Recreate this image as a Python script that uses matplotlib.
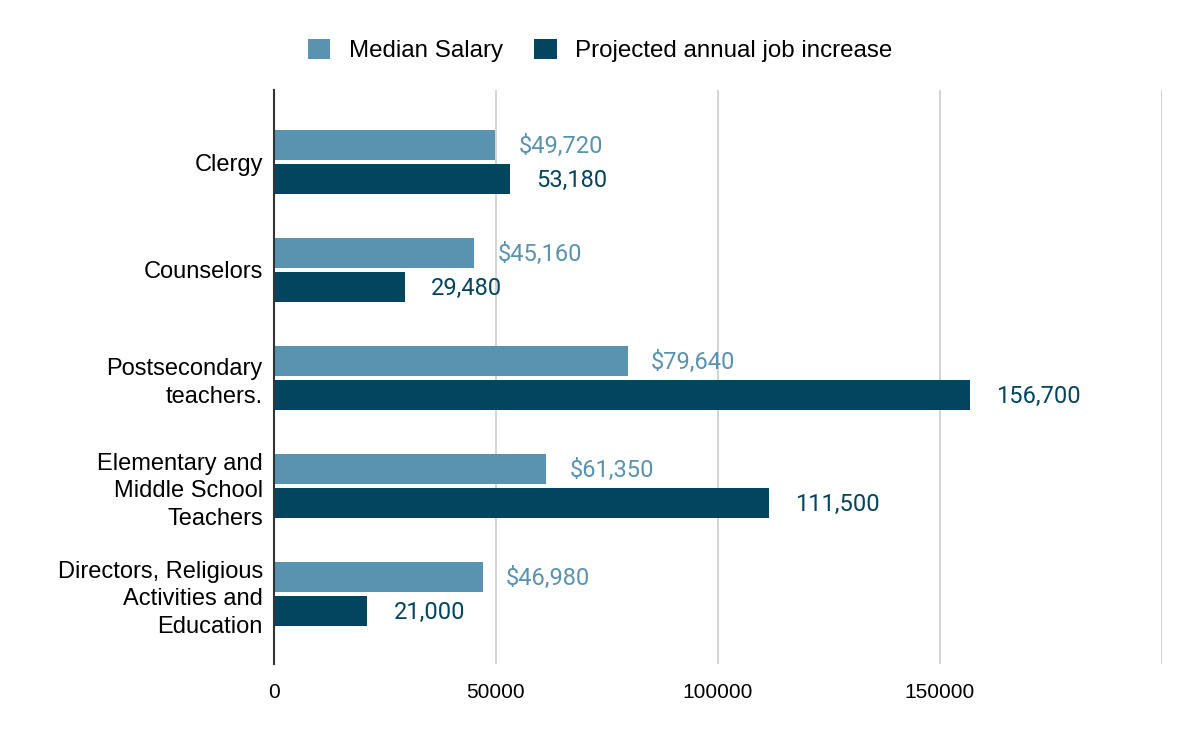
import numpy as np
import matplotlib
matplotlib.use('Agg')
import matplotlib.pyplot as plt

# ---- data ----
categories = ['Clergy', 'Counselors', 'Postsecondary\nteachers.',
              'Elementary and\nMiddle School\nTeachers',
              'Directors, Religious\nActivities and\nEducation']
median_salary = [49720, 45160, 79640, 61350, 46980]
job_increase = [53180, 29480, 156700, 111500, 21000]
median_labels = ['$49,720', '$45,160', '$79,640', '$61,350', '$46,980']
increase_labels = ['53,180', '29,480', '156,700', '111,500', '21,000']
xticks = [0, 50000, 100000, 150000, 200000]
xtick_labels = ['0', '50000', '100000', '150000', '']

C_MED = '#5a93b0'
C_INC = '#03455f'

plt.rcParams['font.family'] = ['Liberation Sans', 'DejaVu Sans']

fig = plt.figure(figsize=(12, 7.42), dpi=100)
ax = fig.add_axes([0.2283, 0.1051, 0.74, 0.7736])

y = np.arange(len(categories))
h = 0.28
off = 0.157
b1 = ax.barh(y - off, median_salary, height=h, color=C_MED, label='Median Salary', zorder=3)
b2 = ax.barh(y + off, job_increase, height=h, color=C_INC, label='Projected annual job increase', zorder=3)

# value labels next to the bars
for bar, txt in zip(b1, median_labels):
    ax.annotate(txt, (bar.get_width(), bar.get_y() + bar.get_height() / 2),
                xytext=(17, -1), textcoords='offset points', va='center', ha='left',
                fontsize=17, color=C_MED, family='Roboto')
for bar, txt in zip(b2, increase_labels):
    ax.annotate(txt, (bar.get_width(), bar.get_y() + bar.get_height() / 2),
                xytext=(19, -1), textcoords='offset points', va='center', ha='left',
                fontsize=17, color=C_INC, family='Roboto')

ax.set_xlim(0, 200000)
ax.set_ylim(4.65, -0.667)
ax.set_yticks(y)
ax.set_yticklabels(categories, fontsize=17, linespacing=1.32)
ax.set_xticks(xticks)
ax.set_xticklabels(xtick_labels, fontsize=15)
ax.tick_params(length=0, pad=8)
ax.tick_params(axis='x', pad=14)
ax.grid(axis='x', color='#cccccc', linewidth=1.2, zorder=0)
for s in ['top', 'right', 'bottom']:
    ax.spines[s].set_visible(False)
ax.spines['left'].set_color('#333333')
ax.spines['left'].set_linewidth(1.5)
ax.spines['left'].set_zorder(4)

fig.legend(handles=[b1, b2], loc='center', bbox_to_anchor=(0.5, 0.932), ncol=2,
           frameon=False, fontsize=17.4, handlelength=0.93, handleheight=0.93,
           columnspacing=1.3, handletextpad=0.75)

fig.savefig('out.png', dpi=100, facecolor='white')
